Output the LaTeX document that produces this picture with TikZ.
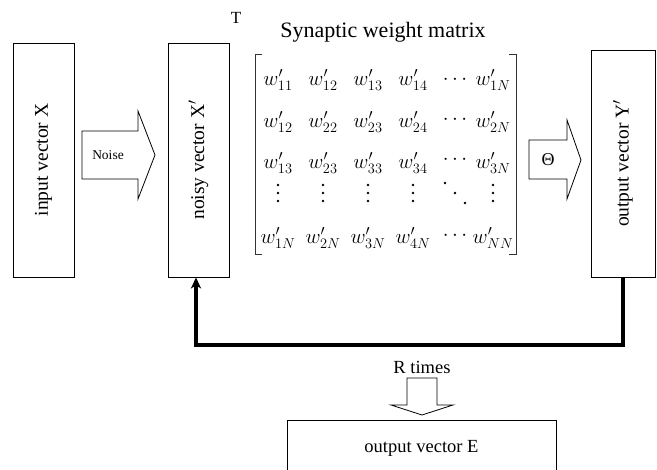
\documentclass[tikz,border=0pt]{standalone}
\usepackage{fontspec}
\setmainfont{Liberation Serif}
\usetikzlibrary{arrows.meta}
\begin{document}
\begin{tikzpicture}[x=1pt,y=-1pt,
  box/.style={draw, line width=0.8pt, inner sep=0pt, font=\fontsize{19.5}{22}\selectfont},
  blockarrow/.style={draw, line width=0.8pt, fill=white, line join=miter},
  ent/.style={font=\fontsize{20}{24}\selectfont, inner sep=0pt},
  brk/.style={draw=black!80, line width=1pt},
  fb/.style={line width=3.6pt, line join=miter}]
\useasboundingbox (0,0) rectangle (657,470);

% boxes
\node[box, rotate=90, minimum width=234pt, minimum height=61pt] (X) at (43.5,160) {input vector X};
\node[box, rotate=90, minimum width=234pt, minimum height=61pt] (Xn) at (198.5,160) {noisy vector X$^{\prime}$};
\node[box, rotate=90, minimum width=227pt, minimum height=64pt] (Y) at (623,163.5) {output vector Y$^{\prime}$};
\node[box, minimum width=269pt, minimum height=56pt] (E) at (421.5,448) {};
\node[font=\fontsize{18.5}{22}\selectfont] (Et) at (421.5,448) {output vector E};

% noise arrow
\draw[blockarrow] (82,131) -- (138,131) -- (138,111) -- (155,155) -- (138,199) -- (138,179) -- (82,179) -- cycle;
\node[font=\fontsize{13.5}{16}\selectfont] (noise) at (108,155) {Noise};

% theta arrow
\draw[blockarrow] (529,140) -- (567,140) -- (567,120) -- (581,160) -- (567,199) -- (567,179) -- (529,179) -- cycle;
\node[font=\fontsize{18}{20}\selectfont] (theta) at (548,160) {Θ};

% title
\node[font=\fontsize{17}{20}\selectfont] (T) at (236,18) {T};
\node[font=\fontsize{22}{26}\selectfont] (title) at (383,32) {Synaptic weight matrix};

% brackets
\draw[brk] (262,55) -- (255,55) -- (255,255) -- (262,255);
\draw[brk] (509,55) -- (516,55) -- (516,255) -- (509,255);

% matrix entries
\node[ent] (m11) at (278,80) {$w^{\prime}_{11}$};
\node[ent] (m12) at (323,80) {$w^{\prime}_{12}$};
\node[ent] (m13) at (368,80) {$w^{\prime}_{13}$};
\node[ent] (m14) at (413,80) {$w^{\prime}_{14}$};
\node[ent] (m15) at (455,80) {$\cdots$};
\node[ent] (m16) at (493,80) {$w^{\prime}_{1N}$};

\node[ent] (m21) at (278,122) {$w^{\prime}_{12}$};
\node[ent] (m22) at (323,122) {$w^{\prime}_{22}$};
\node[ent] (m23) at (368,122) {$w^{\prime}_{23}$};
\node[ent] (m24) at (413,122) {$w^{\prime}_{24}$};
\node[ent] (m25) at (455,120) {$\cdots$};
\node[ent] (m26) at (493,122) {$w^{\prime}_{2N}$};

\node[ent] (m31) at (278,163) {$w^{\prime}_{13}$};
\node[ent] (m32) at (323,163) {$w^{\prime}_{23}$};
\node[ent] (m33) at (368,163) {$w^{\prime}_{33}$};
\node[ent] (m34) at (413,163) {$w^{\prime}_{34}$};
\node[ent] (m35) at (455,160) {$\cdots$};
\node[ent] (m36) at (493,163) {$w^{\prime}_{3N}$};

% vertical and diagonal dots
\foreach \n/\x in {m41/278, m42/323, m43/368, m44/413, m46/493} {
  \coordinate (\n) at (\x,193);
  \foreach \d in {-8,0,8} \fill (\n) ++(0,\d) circle (1.4);
}
\coordinate (m45) at (455,193);
\foreach \d in {-10,0,10} \fill (m45) ++(\d,\d) circle (1.4);

\node[ent] (m51) at (278,238) {$w^{\prime}_{1N}$};
\node[ent] (m52) at (323,238) {$w^{\prime}_{2N}$};
\node[ent] (m53) at (368,238) {$w^{\prime}_{3N}$};
\node[ent] (m54) at (413,238) {$w^{\prime}_{4N}$};
\node[ent] (m55) at (455,236) {$\cdots$};
\node[ent] (m56) at (493,238) {$w^{\prime}_{NN}$};

% feedback loop
\coordinate (c1) at (623,345);
\coordinate (c2) at (196,345);
\draw[fb, -{Stealth[length=11pt,width=10pt,inset=3pt]}] (Y.west) -- (c1) -- (c2) -- (c2 |- Xn.west);

% R times
\node[font=\fontsize{18.5}{22}\selectfont] (R) at (422,367) {R times};
\draw[blockarrow] (407,378) -- (437,378) -- (437,405) -- (453,405) -- (422,415) -- (391,405) -- (407,405) -- cycle;
\end{tikzpicture}
\end{document}
